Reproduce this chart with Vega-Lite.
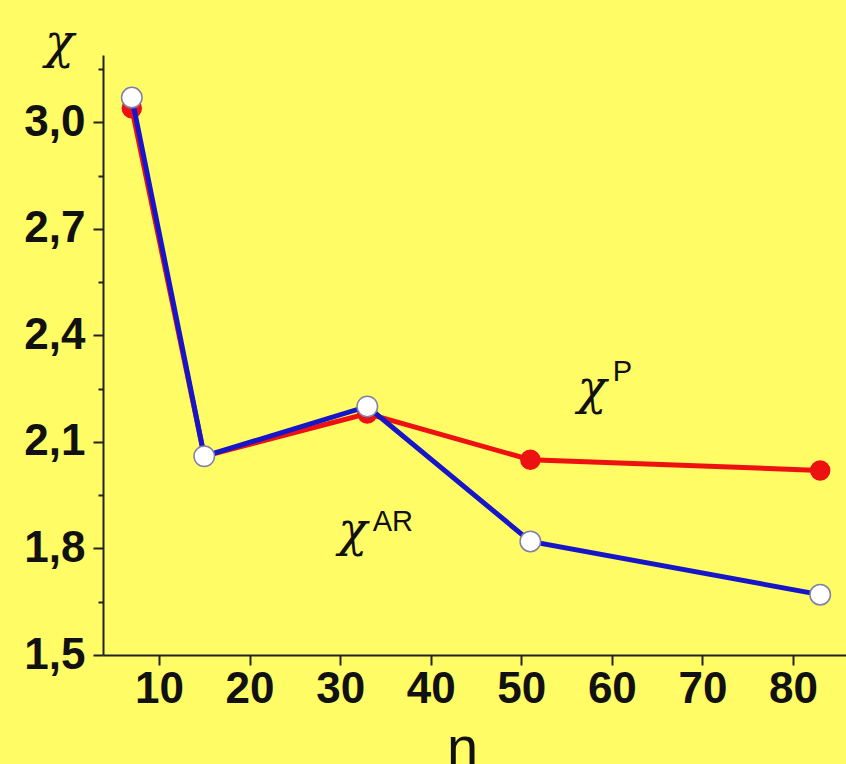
{
  "$schema": "https://vega.github.io/schema/vega-lite/v6.json",
  "autosize": {"type": "none"},
  "padding": {"left": 103, "top": 55, "right": 0, "bottom": 109},
  "width": 743,
  "height": 600,
  "background": "#FFFC66",
  "config": {
    "view": {"stroke": null},
    "axis": {
      "labelFont": "Liberation Sans",
      "labelFontWeight": "bold",
      "labelFontSize": 44,
      "labelColor": "#111111",
      "domainColor": "#222222",
      "domainWidth": 2,
      "tickColor": "#222222",
      "tickWidth": 2,
      "grid": false
    }
  },
  "datasets": {
    "pts": [
      {"series": "P", "n": 7, "chi": 3.04},
      {"series": "P", "n": 15, "chi": 2.06},
      {"series": "P", "n": 33, "chi": 2.18},
      {"series": "P", "n": 51, "chi": 2.05},
      {"series": "P", "n": 83, "chi": 2.02},
      {"series": "AR", "n": 7, "chi": 3.07},
      {"series": "AR", "n": 15, "chi": 2.06},
      {"series": "AR", "n": 33, "chi": 2.2},
      {"series": "AR", "n": 51, "chi": 1.82},
      {"series": "AR", "n": 83, "chi": 1.67}
    ],
    "labels": [
      {"n": 57.8, "chi": 2.246, "t": "χ", "kind": "chi"},
      {"n": 60.1, "chi": 2.296, "t": "P", "kind": "sup"},
      {"n": 31.4, "chi": 1.846, "t": "χ", "kind": "chi"},
      {"n": 33.6, "chi": 1.874, "t": "AR", "kind": "sup"}
    ]
  },
  "encoding": {
    "x": {
      "field": "n", "type": "quantitative",
      "scale": {"domain": [3.82, 85.85], "nice": false, "zero": false},
      "axis": {
        "values": [10, 20, 30, 40, 50, 60, 70, 80],
        "tickSize": 10,
        "labelPadding": 2,
        "labelFlush": false,
        "title": "n",
        "titleFont": "Liberation Sans",
        "titleFontWeight": "normal",
        "titleFontSize": 56,
        "titleColor": "#111111",
        "titleX": 359,
        "titleY": 110,
        "titleAlign": "center",
        "titleBaseline": "alphabetic"
      }
    },
    "y": {
      "field": "chi", "type": "quantitative",
      "scale": {"domain": [1.5, 3.19], "nice": false, "zero": false},
      "axis": {
        "values": [1.5, 1.65, 1.8, 1.95, 2.1, 2.25, 2.4, 2.55, 2.7, 2.85, 3.0, 3.15],
        "tickSize": {"condition": {"test": "round(datum.value*100) % 30 == 0", "value": 10}, "value": 5},
        "labelExpr": "round(datum.value*100) % 30 == 0 ? replace(format(datum.value, '.1f'), '.', ',') : ''",
        "labelPadding": 8,
        "labelFlush": false,
        "labelBaseline": "middle",
        "labelOverlap": false,
        "title": "χ",
        "titleFont": "DejaVu Serif",
        "titleFontStyle": "italic",
        "titleFontWeight": "normal",
        "titleFontSize": 48,
        "titleColor": "#111111",
        "titleAngle": 0,
        "titleX": -44,
        "titleY": -12,
        "titleAlign": "center",
        "titleBaseline": "middle"
      }
    }
  },
  "layer": [
    {
      "data": {"name": "pts"},
      "transform": [{"filter": "datum.series == 'P'"}],
      "mark": {"type": "line", "color": "#EE1111", "strokeWidth": 5}
    },
    {
      "data": {"name": "pts"},
      "transform": [{"filter": "datum.series == 'P'"}],
      "mark": {"type": "point", "shape": "circle", "filled": true, "color": "#EE1111", "size": 420, "opacity": 1}
    },
    {
      "data": {"name": "pts"},
      "transform": [{"filter": "datum.series == 'AR'"}],
      "mark": {"type": "line", "color": "#1616C8", "strokeWidth": 5}
    },
    {
      "data": {"name": "pts"},
      "transform": [{"filter": "datum.series == 'AR'"}],
      "mark": {"type": "point", "shape": "circle", "filled": true, "fill": "#FFFFFF", "stroke": "#8080A8", "strokeWidth": 1.5, "size": 420, "opacity": 1}
    },
    {
      "data": {"name": "labels"},
      "transform": [{"filter": "datum.kind == 'chi'"}],
      "mark": {"type": "text", "font": "DejaVu Serif", "fontStyle": "italic", "fontSize": 48, "color": "#111111", "align": "center", "baseline": "middle"},
      "encoding": {"text": {"field": "t"}}
    },
    {
      "data": {"name": "labels"},
      "transform": [{"filter": "datum.kind == 'sup'"}],
      "mark": {"type": "text", "font": "Liberation Sans", "fontSize": 29, "color": "#111111", "align": "left", "baseline": "middle"},
      "encoding": {"text": {"field": "t"}}
    }
  ]
}
